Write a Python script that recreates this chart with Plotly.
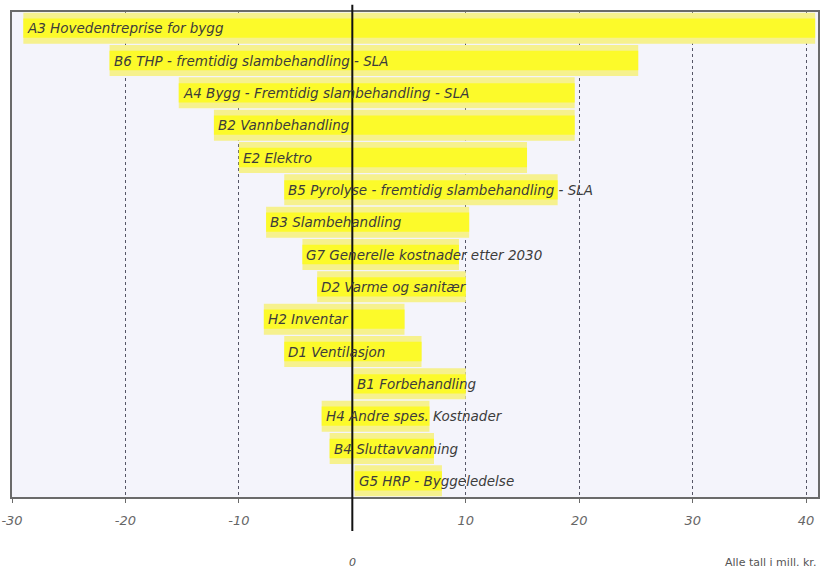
import plotly.graph_objects as go

# Tornado chart: low/high range per cost item (mill. kr.)
items = [
    "A3 Hovedentreprise for bygg",
    "B6 THP - fremtidig slambehandling - SLA",
    "A4 Bygg - Fremtidig slambehandling - SLA",
    "B2 Vannbehandling",
    "E2 Elektro",
    "B5 Pyrolyse - fremtidig slambehandling - SLA",
    "B3 Slambehandling",
    "G7 Generelle kostnader etter 2030",
    "D2 Varme og sanitær",
    "H2 Inventar",
    "D1 Ventilasjon",
    "B1 Forbehandling",
    "H4 Andre spes. Kostnader",
    "B4 Sluttavvanning",
    "G5 HRP - Byggeledelse",
]
low = [-29.0, -21.4, -15.3, -12.2, -10.0, -6.0, -7.6, -4.4, -3.1, -7.8, -6.0, 0.1, -2.7, -2.0, 0.2]
high = [40.8, 25.2, 19.6, 19.6, 15.4, 18.1, 10.3, 9.4, 10.0, 4.6, 6.1, 10.0, 6.8, 7.2, 7.9]

tick_vals = [-30, -20, -10, 10, 20, 30, 40]
tick_text = ["-30", "-20", "-10", "10", "20", "30", "40"]

spans = [h - l for l, h in zip(low, high)]

fig = go.Figure()
# pale outer band and bright core give the bars a soft glossy look
fig.add_trace(go.Bar(
    y=items, x=spans, base=low, orientation="h",
    marker=dict(color="#f6f18e", line=dict(width=0)),
    width=0.96, hoverinfo="skip", showlegend=False,
))
fig.add_trace(go.Bar(
    y=items, x=spans, base=low, orientation="h",
    marker=dict(color="#fcfa2a", line=dict(width=0)),
    width=0.6, hoverinfo="skip", showlegend=False,
))
fig.update_layout(barmode="overlay")

# item labels at the left end of each bar
for name, l in zip(items, low):
    fig.add_annotation(
        x=l, y=name, xref="x", yref="y", text=name,
        showarrow=False, xanchor="left", yanchor="middle", xshift=2,
        font=dict(family="DejaVu Sans", size=13.5, color="#3c3c3c", style="italic"),
    )

# zero line reaching above and below the plot frame
fig.add_shape(type="line", xref="x", yref="paper", x0=0, x1=0, y0=-0.07, y1=1.015,
              line=dict(color="#111111", width=2))

fig.add_annotation(x=0, y=-0.135, xref="x", yref="paper", text="0", showarrow=False,
                   yanchor="middle",
                   font=dict(family="DejaVu Sans", size=11, color="#555555", style="italic"))
fig.add_annotation(x=1.0, y=-0.135, xref="paper", yref="paper", text="Alle tall i mill. kr.",
                   showarrow=False, xanchor="right", yanchor="middle",
                   font=dict(family="DejaVu Sans", size=11, color="#555555"))

fig.update_xaxes(
    range=[-30, 41.05], tickvals=tick_vals, ticktext=tick_text, automargin=False,
    showgrid=True, gridcolor="#555566", griddash="dot", gridwidth=1,
    zeroline=False, showline=True, linecolor="#6a6a6a", linewidth=2, mirror=True,
    ticks="outside", ticklen=4, tickcolor="#6a6a6a", ticklabelstandoff=6,
    tickfont=dict(family="DejaVu Sans", size=13, color="#666666", style="italic"),
)
fig.update_yaxes(
    autorange="reversed", showticklabels=False, showgrid=False, zeroline=False,
    showline=True, linecolor="#6a6a6a", linewidth=2, mirror=True, automargin=False,
)
fig.update_layout(
    width=827, height=576,
    margin=dict(l=12, r=9, t=12, b=79),
    plot_bgcolor="#f4f4fb", paper_bgcolor="#ffffff",
    bargap=0.04,
)

fig.write_html("out.html")
